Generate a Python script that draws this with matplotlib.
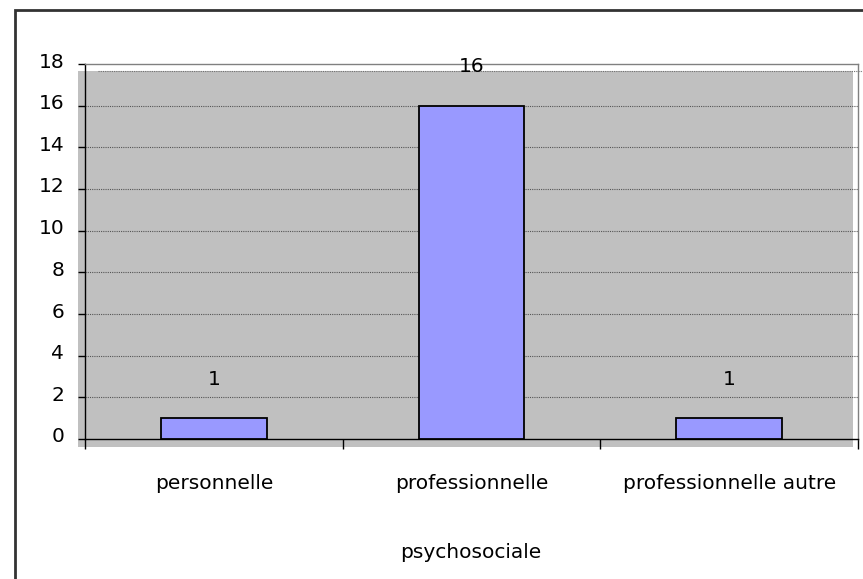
import matplotlib
matplotlib.use("Agg")
import matplotlib.pyplot as plt
from matplotlib.patches import Rectangle
from matplotlib.lines import Line2D
from matplotlib.transforms import ScaledTranslation

categories = ["personnelle", "professionnelle", "professionnelle autre"]
values = [1, 16, 1]
yticks = [0, 2, 4, 6, 8, 10, 12, 14, 16, 18]
xlabel = "psychosociale"

W, H = 863, 579
fig = plt.figure(figsize=(W / 100, H / 100), dpi=100)
plt.rcParams['font.family'] = ['DejaVu Sans']

def fx(px):
    return px / W

def fy(py):
    return 1 - py / H

# outer chart border (clipped at right/bottom)
fig.patches.append(Rectangle((fx(15), fy(590)), fx(880 - 15), fy(10) - fy(590),
                             transform=fig.transFigure, fill=False,
                             edgecolor="#333333", linewidth=2.0, zorder=-2))
# grey plot area (slightly offset, as in the reference)
fig.patches.append(Rectangle((fx(78), fy(447)), fx(853 - 78), fy(71) - fy(447),
                             transform=fig.transFigure, facecolor="#C0C0C0",
                             edgecolor="none", zorder=-2))
fig.lines.append(Line2D([fx(98), fx(863)], [fy(71), fy(71)], transform=fig.transFigure,
                        color="#707070", linestyle=(0, (1, 1)), linewidth=0.8, zorder=-1))

ax = fig.add_axes([fx(85), fy(439), fx(858 - 85), fy(64) - fy(439)])
ax.set_facecolor("none")
ax.set_zorder(2)

n = len(categories)
xs = list(range(n))
bars = ax.bar(xs, values, width=0.41, color="#9999FF", edgecolor="black",
              linewidth=1.3, zorder=3)
for x, v in zip(xs, values):
    ax.annotate(str(v), (x, v), xytext=(0, 28), textcoords="offset points",
                ha="center", va="center", fontsize=14.5,
                annotation_clip=False, zorder=4)

ax.set_xlim(-0.5, n - 0.5)
ax.set_ylim(0, 18)
ax.set_yticks(yticks)
ax.set_yticklabels([str(t) for t in yticks], fontsize=14.5)
ax.tick_params(axis="y", direction="out", length=5, width=1, pad=10, colors="black")
shift = ScaledTranslation(0, 4 / 100, fig.dpi_scale_trans)
for lab in ax.get_yticklabels():
    lab.set_transform(lab.get_transform() + shift)

ax.set_xticks(xs)
ax.set_xticklabels(categories, fontsize=14.5)
ax.tick_params(axis="x", which="major", length=0, pad=25)
ax.set_xticks([i - 0.5 for i in range(n + 1)], minor=True)
ax.tick_params(axis="x", which="minor", direction="out", length=7, width=1, color="black")

for y in yticks[1:-1]:
    ax.axhline(y, color="#555555", linestyle=(0, (1, 1)), linewidth=0.8, zorder=1)

ax.spines["left"].set_color("black")
ax.spines["bottom"].set_color("black")
ax.spines["top"].set_color("#808080")
ax.spines["right"].set_color("#808080")
for s in ax.spines.values():
    s.set_linewidth(1.0)

fig.text(fx(471), fy(553), xlabel, ha="center", va="center", fontsize=14.5)

fig.savefig("out.png", dpi=100)
